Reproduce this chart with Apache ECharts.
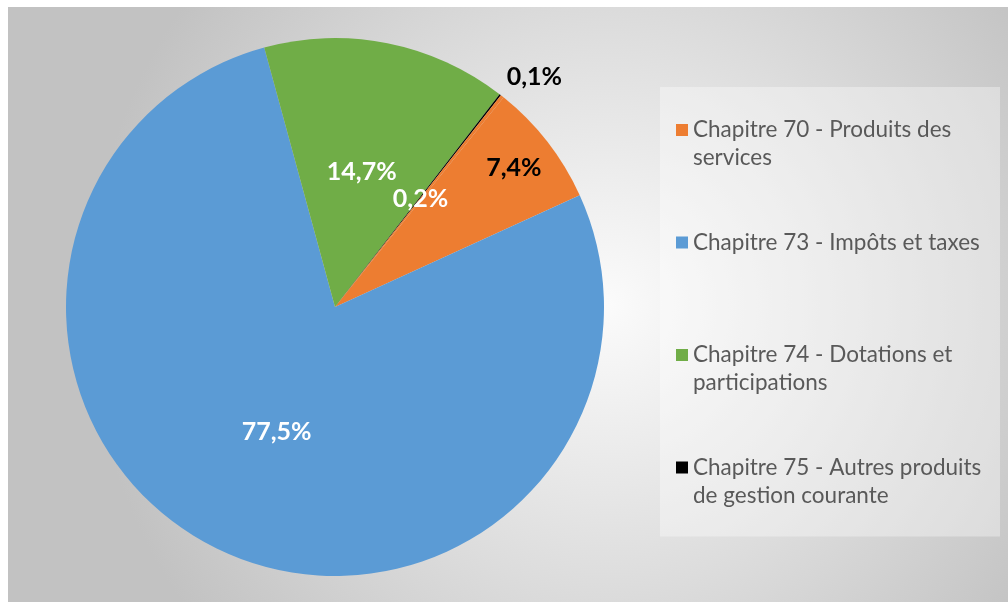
<!DOCTYPE html>
<html><head><meta charset="utf-8">
<script src="https://cdn.jsdelivr.net/npm/echarts@6/dist/echarts.min.js"></script>
<style>
html,body{margin:0;padding:0;background:#fff;width:1008px;height:602px;overflow:hidden}
#c{position:absolute;left:8px;top:7px;width:1000px;height:595px}
</style></head>
<body><div id="c"></div>
<script>
const categories = [
  'Chapitre 70 - Produits des services',
  'Chapitre 73 - Impôts et taxes',
  'Chapitre 74 - Dotations et participations',
  'Chapitre 75 - Autres produits de gestion courante',
  'Autres'
];
const values = [7.4, 77.5, 14.7, 0.1, 0.2];
const colors = ['#ED7D31', '#5B9BD5', '#70AD47', '#000000', '#ED7D31'];
const legendCategories = categories.slice(0, 4);
const legendLabels = [
  'Chapitre 70 - Produits des\nservices',
  'Chapitre 73 - Impôts et taxes\n ',
  'Chapitre 74 - Dotations et\nparticipations',
  'Chapitre 75 - Autres produits\nde gestion courante'
];

const fmt = p => p.value.toFixed(1).replace('.', ',') + '%';
const FONT = 'Lato';
const LBL = 25;
const whiteInside = { show: true, position: 'inside', color: '#ffffff', fontFamily: FONT, fontWeight: 'bold', fontSize: LBL, formatter: fmt };
const hidden = { show: false };
const outsideBlack = { show: true, position: 'outside', color: '#000000', fontFamily: FONT, fontWeight: 'bold', fontSize: LBL, formatter: fmt, distanceToLabelLine: -7 };
const mainLabels = [hidden, whiteInside, whiteInside, outsideBlack, whiteInside];
const outerLabels = [
  { show: true, position: 'inside', color: '#000000', fontFamily: FONT, fontWeight: 'bold', fontSize: LBL, formatter: fmt },
  hidden, hidden, hidden, hidden
];

const center = [327, 300];
const R = 269;
const startAngle = 51.2;

const mainData = categories.map((n, i) => ({
  name: n, value: values[i],
  itemStyle: { color: colors[i] },
  label: mainLabels[i],
  labelLine: { show: false, length: 22, length2: 0 }
}));
const outerData = categories.map((n, i) => ({
  name: n, value: values[i],
  itemStyle: { color: 'rgba(0,0,0,0)' },
  label: outerLabels[i],
  labelLine: { show: false }
}));

const chart = echarts.init(document.getElementById('c'), null, { renderer: 'canvas' });
chart.setOption({
  backgroundColor: {
    type: 'radial', x: 0.6, y: 0.5, r: 0.874,
    colorStops: [
      { offset: 0, color: '#fbfbfb' },
      { offset: 0.55, color: '#dcdcdc' },
      { offset: 1, color: '#c2c2c2' }
    ]
  },
  animation: false,
  legend: {
    orient: 'vertical',
    left: 652, top: 80,
    padding: [29, 7, 27, 16],
    backgroundColor: 'rgba(255,255,255,0.35)',
    data: legendCategories,
    itemWidth: 12, itemHeight: 40,
    itemGap: 56.5,
    icon: 'path://M0,0H12V12H0Z M0,40H0.05',
    itemStyle: { borderWidth: 0 },
    selectedMode: false,
    formatter: name => legendLabels[legendCategories.indexOf(name)],
    textStyle: { fontFamily: FONT, fontSize: 22.5, color: '#595959', lineHeight: 28, width: 300 }
  },
  series: [
    {
      type: 'pie', center: center, radius: R, startAngle: startAngle, clockwise: true,
      avoidLabelOverlap: false, legendHoverLink: false, silent: true,
      itemStyle: { borderWidth: 0 },
      data: mainData
    },
    {
      type: 'pie', center: center, radius: [178, R], startAngle: startAngle, clockwise: true,
      avoidLabelOverlap: false, legendHoverLink: false, silent: true,
      itemStyle: { borderWidth: 0 },
      data: outerData
    }
  ]
});
</script>
</body></html>
